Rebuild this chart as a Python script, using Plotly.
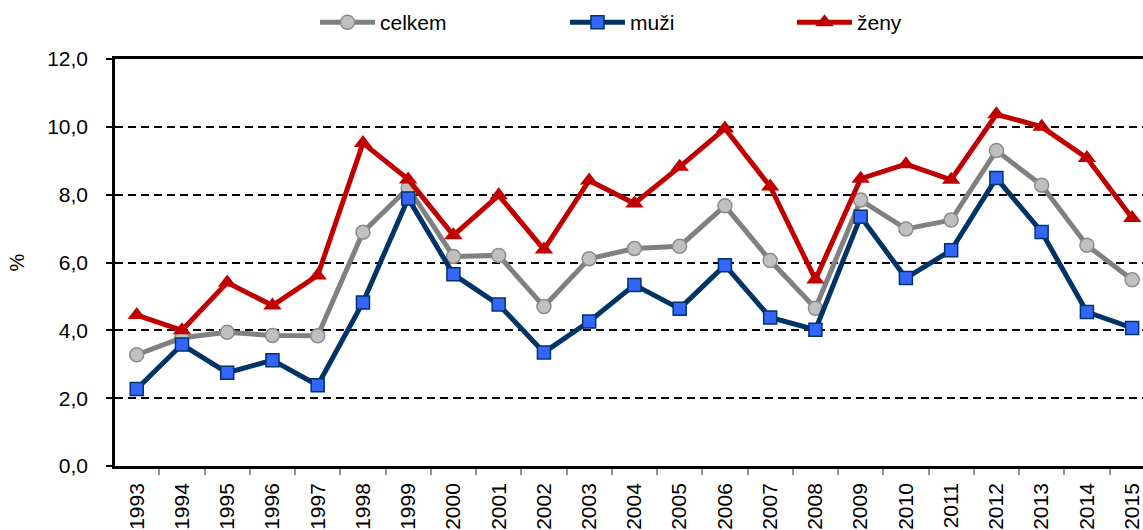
import plotly.graph_objects as go

years = [str(y) for y in range(1993, 2016)]
celkem = [3.28, 3.78, 3.94, 3.85, 3.84, 6.89, 8.20, 6.18, 6.21, 4.70, 6.11, 6.41,
          6.48, 7.67, 6.06, 4.65, 7.84, 6.99, 7.25, 9.30, 8.28, 6.51, 5.49]
muzi = [2.27, 3.58, 2.75, 3.12, 2.38, 4.82, 7.89, 5.65, 4.76, 3.35, 4.26, 5.34,
        4.64, 5.92, 4.38, 4.02, 7.35, 5.54, 6.36, 8.49, 6.90, 4.54, 4.07]
zeny = [4.45, 4.00, 5.41, 4.73, 5.62, 9.52, 8.45, 6.80, 7.98, 6.38, 8.42, 7.74,
        8.82, 9.95, 8.24, 5.50, 8.47, 8.90, 8.44, 10.37, 10.00, 9.08, 7.31]

FONT = "Arial"

fig = go.Figure()
fig.add_trace(go.Scatter(
    x=years, y=celkem, name="celkem", mode="lines+markers", legend="legend",
    line=dict(color="#808080", width=5),
    marker=dict(symbol="circle", size=14, color="#C0C0C0",
                line=dict(color="#8C8C8C", width=1.5))))
fig.add_trace(go.Scatter(
    x=years, y=muzi, name="muži", mode="lines+markers", legend="legend2",
    line=dict(color="#003366", width=5),
    marker=dict(symbol="square", size=13, color="#3366FF",
                line=dict(color="#003366", width=1.5))))
fig.add_trace(go.Scatter(
    x=years, y=zeny, name="ženy", mode="lines+markers", legend="legend3",
    line=dict(color="#C00000", width=5),
    marker=dict(symbol="triangle-up", size=16, color="#C00000",
                line=dict(color="#C00000", width=0))))

leg_common = dict(orientation="h", yanchor="middle", xanchor="left",
                  font=dict(family=FONT, size=21, color="black"),
                  bgcolor="rgba(0,0,0,0)", itemwidth=55)
T, B = 59, 57
H = 530 - T - B
ly = 1 + (T - 22) / H
W = 1143 - 115
fig.update_layout(
    width=1143, height=530,
    margin=dict(l=115, r=0, t=T, b=B, pad=0),
    plot_bgcolor="white", paper_bgcolor="white",
    separators=", ",
    showlegend=True,
    font=dict(family=FONT, size=21, color="black"),
    legend=dict(x=(315 - 115) / W, y=ly, **leg_common),
    legend2=dict(x=(565 - 115) / W, y=ly, **leg_common),
    legend3=dict(x=(792 - 115) / W, y=ly, **leg_common),
    xaxis=dict(
        type="category", range=[-0.48, 22.24],
        showline=True, linecolor="black", linewidth=2.5, mirror=True,
        showgrid=False, ticks="outside", tickson="boundaries",
        ticklen=6, tickcolor="#909090", tickwidth=1.5,
        tickangle=-90, ticklabelstandoff=6,
        tickfont=dict(family=FONT, size=21, color="black"),
    ),
    yaxis=dict(
        range=[0, 12], dtick=2, tickformat=".1f",
        showline=True, linecolor="black", linewidth=2.5, mirror=False,
        showgrid=True, gridcolor="black", gridwidth=2, griddash="8px,5px",
        zeroline=False, ticks="outside", ticklen=6, tickcolor="black",
        tickwidth=1.5, ticklabelstandoff=14,
        tickfont=dict(family=FONT, size=21, color="black"),
        title=dict(text="%", font=dict(family=FONT, size=20), standoff=18),
    ),
)

fig.write_html("out.html", config={"displayModeBar": False},
               post_script="document.body.style.margin='0px';")
